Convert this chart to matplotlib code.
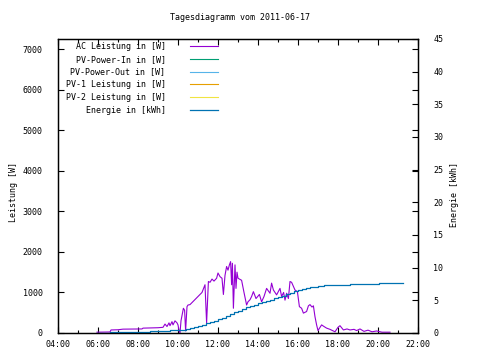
import numpy as np
import matplotlib
matplotlib.use("Agg")
import matplotlib.pyplot as plt
from matplotlib.ticker import MultipleLocator

# AC Leistung (W), time in hours
ac_t = [5.95, 6.6, 6.65, 7.0, 7.25, 8.2, 8.25, 9.0, 9.25, 9.35, 9.45, 9.55, 9.6, 9.7,
        9.75, 9.85, 9.95, 10.0, 10.05, 10.1, 10.15, 10.27, 10.33, 10.38, 10.45, 10.5,
        10.6, 10.8, 11.0, 11.2, 11.35, 11.43, 11.52, 11.6, 11.7, 11.8, 11.93, 12.0,
        12.1, 12.2, 12.27, 12.35, 12.43, 12.5, 12.57, 12.63, 12.68, 12.72, 12.77,
        12.85, 12.9, 12.95, 13.0, 13.18, 13.3, 13.43, 13.5, 13.6, 13.68, 13.77, 13.9,
        14.07, 14.18, 14.3, 14.43, 14.6, 14.68, 14.77, 14.93, 15.1, 15.18, 15.28,
        15.35, 15.43, 15.52, 15.6, 15.68, 15.85, 15.97, 16.07, 16.18, 16.27, 16.43,
        16.52, 16.6, 16.7, 16.77, 16.85, 16.93, 17.0, 17.18, 17.3, 17.43, 17.6, 17.85,
        18.0, 18.1, 18.27, 18.45, 18.6, 18.8, 18.93, 19.1, 19.3, 19.5, 19.7, 19.93,
        20.2, 20.6]
ac_w = [20, 25, 75, 80, 95, 100, 120, 130, 140, 220, 160, 250, 180, 280,
        200, 300, 250, 200, 60, 0, 300, 610, 560, 50, 650, 690,
        700, 800, 900, 1000, 1190, 250, 1270, 1250, 1330, 1280, 1350, 1480,
        1390, 1350, 950, 1420, 1640, 1550, 1680, 1760, 1190, 1720, 610,
        1680, 1100, 1500, 1350, 1300, 1000, 690, 770, 820, 900, 1020, 850,
        950, 770, 900, 1100, 980, 1230, 1060, 940, 1100, 900, 1000,
        810, 980, 850, 1270, 1250, 1060, 1020, 650, 610, 490, 530,
        670, 700, 640, 670, 400, 200, 60, 200, 160, 120, 90, 30,
        140, 180, 75, 100, 75, 90, 60, 100, 40, 70, 30, 50,
        20, 20]

# Energie (kWh)
en_t = [5.95, 6.6, 8.6, 9.6, 10.1, 10.4, 10.6, 10.8, 11.0, 11.2, 11.4, 11.6, 11.8,
        12.0, 12.2, 12.4, 12.6, 12.8, 13.0, 13.2, 13.4, 13.6, 13.8, 14.0, 14.2,
        14.4, 14.6, 14.8, 15.0, 15.2, 15.4, 15.6, 15.8, 16.0, 16.2, 16.4, 16.6,
        16.8, 17.0, 17.3, 18.6, 20.05, 21.25]
en_kwh = [0.05, 0.1, 0.25, 0.4, 0.5, 0.65, 0.8, 0.95, 1.1, 1.3, 1.5, 1.7, 1.9,
          2.1, 2.35, 2.6, 2.85, 3.15, 3.4, 3.7, 3.95, 4.15, 4.35, 4.55, 4.75,
          4.9, 5.1, 5.3, 5.5, 5.7, 5.95, 6.15, 6.4, 6.55, 6.75, 6.9, 7.0,
          7.1, 7.2, 7.3, 7.45, 7.6, 7.6]

labels = ['AC Leistung in [W]', 'PV-Power-In in [W]', 'PV-Power-Out in [W]',
          'PV-1 Leistung in [W]', 'PV-2 Leistung in [W]', 'Energie in [kWh]']
colors = ['#9400d3', '#009e73', '#56b4e9', '#e69f00', '#f0e442', '#0072b2']

xtick_pos = [4, 6, 8, 10, 12, 14, 16, 18, 20, 22]
xtick_lab = ['04:00', '06:00', '08:00', '10:00', '12:00', '14:00', '16:00',
             '18:00', '20:00', '22:00']

plt.rcParams['font.family'] = 'DejaVu Sans Mono'
plt.rcParams['font.size'] = 6

fig = plt.figure(figsize=(4.8, 3.6), dpi=100)
ax = fig.add_axes([58/480, 27/360, 360/480, 294/360])
ax2 = ax.twinx()

h1, = ax.plot(ac_t, ac_w, color=colors[0], lw=0.8)
h2, = ax.plot([], [], color=colors[1], lw=0.8)
h3, = ax.plot([], [], color=colors[2], lw=0.8)
h4, = ax.plot([], [], color=colors[3], lw=0.8)
h5, = ax.plot([], [], color=colors[4], lw=0.8)
h6, = ax2.plot(en_t, en_kwh, color=colors[5], lw=0.9, drawstyle='steps-post')

ax.set_xlim(4, 22)
ax.set_ylim(0, 7250)
ax2.set_ylim(0, 45)

ax.set_xticks(xtick_pos)
ax.set_xticklabels(xtick_lab)
ax.xaxis.set_minor_locator(MultipleLocator(1))
ax.set_yticks(np.arange(0, 7001, 1000))
ax2.set_yticks(np.arange(0, 46, 5))

ax.tick_params(axis='both', which='both', direction='in', top=True, right=True)
ax.tick_params(which='major', length=4, width=0.8)
ax.tick_params(which='minor', length=2, width=0.8)
ax.tick_params(axis='y', pad=11)
ax.tick_params(axis='x', pad=5)
ax2.tick_params(axis='y', direction='in', length=4, width=0.8, pad=11)

for a in (ax, ax2):
    for s in a.spines.values():
        s.set_linewidth(0.9)

ax.set_ylabel('Leistung [W]')
ax.yaxis.set_label_coords(-0.11, 0.48)
ax2.set_ylabel('Energie [kWh]')
ax2.yaxis.set_label_coords(1.088, 0.47)

fig.text(0.5, 1 - 18/360, 'Tagesdiagramm vom 2011-06-17', ha='center', va='center')

leg = ax2.legend([h1, h2, h3, h4, h5, h6], labels, loc='upper right',
                 bbox_to_anchor=(160/360, 0.99), markerfirst=False, frameon=False,
                 handlelength=3.4, handletextpad=2.9, labelspacing=0.45,
                 borderpad=0, borderaxespad=0)

fig.savefig('out.png', dpi=100)
